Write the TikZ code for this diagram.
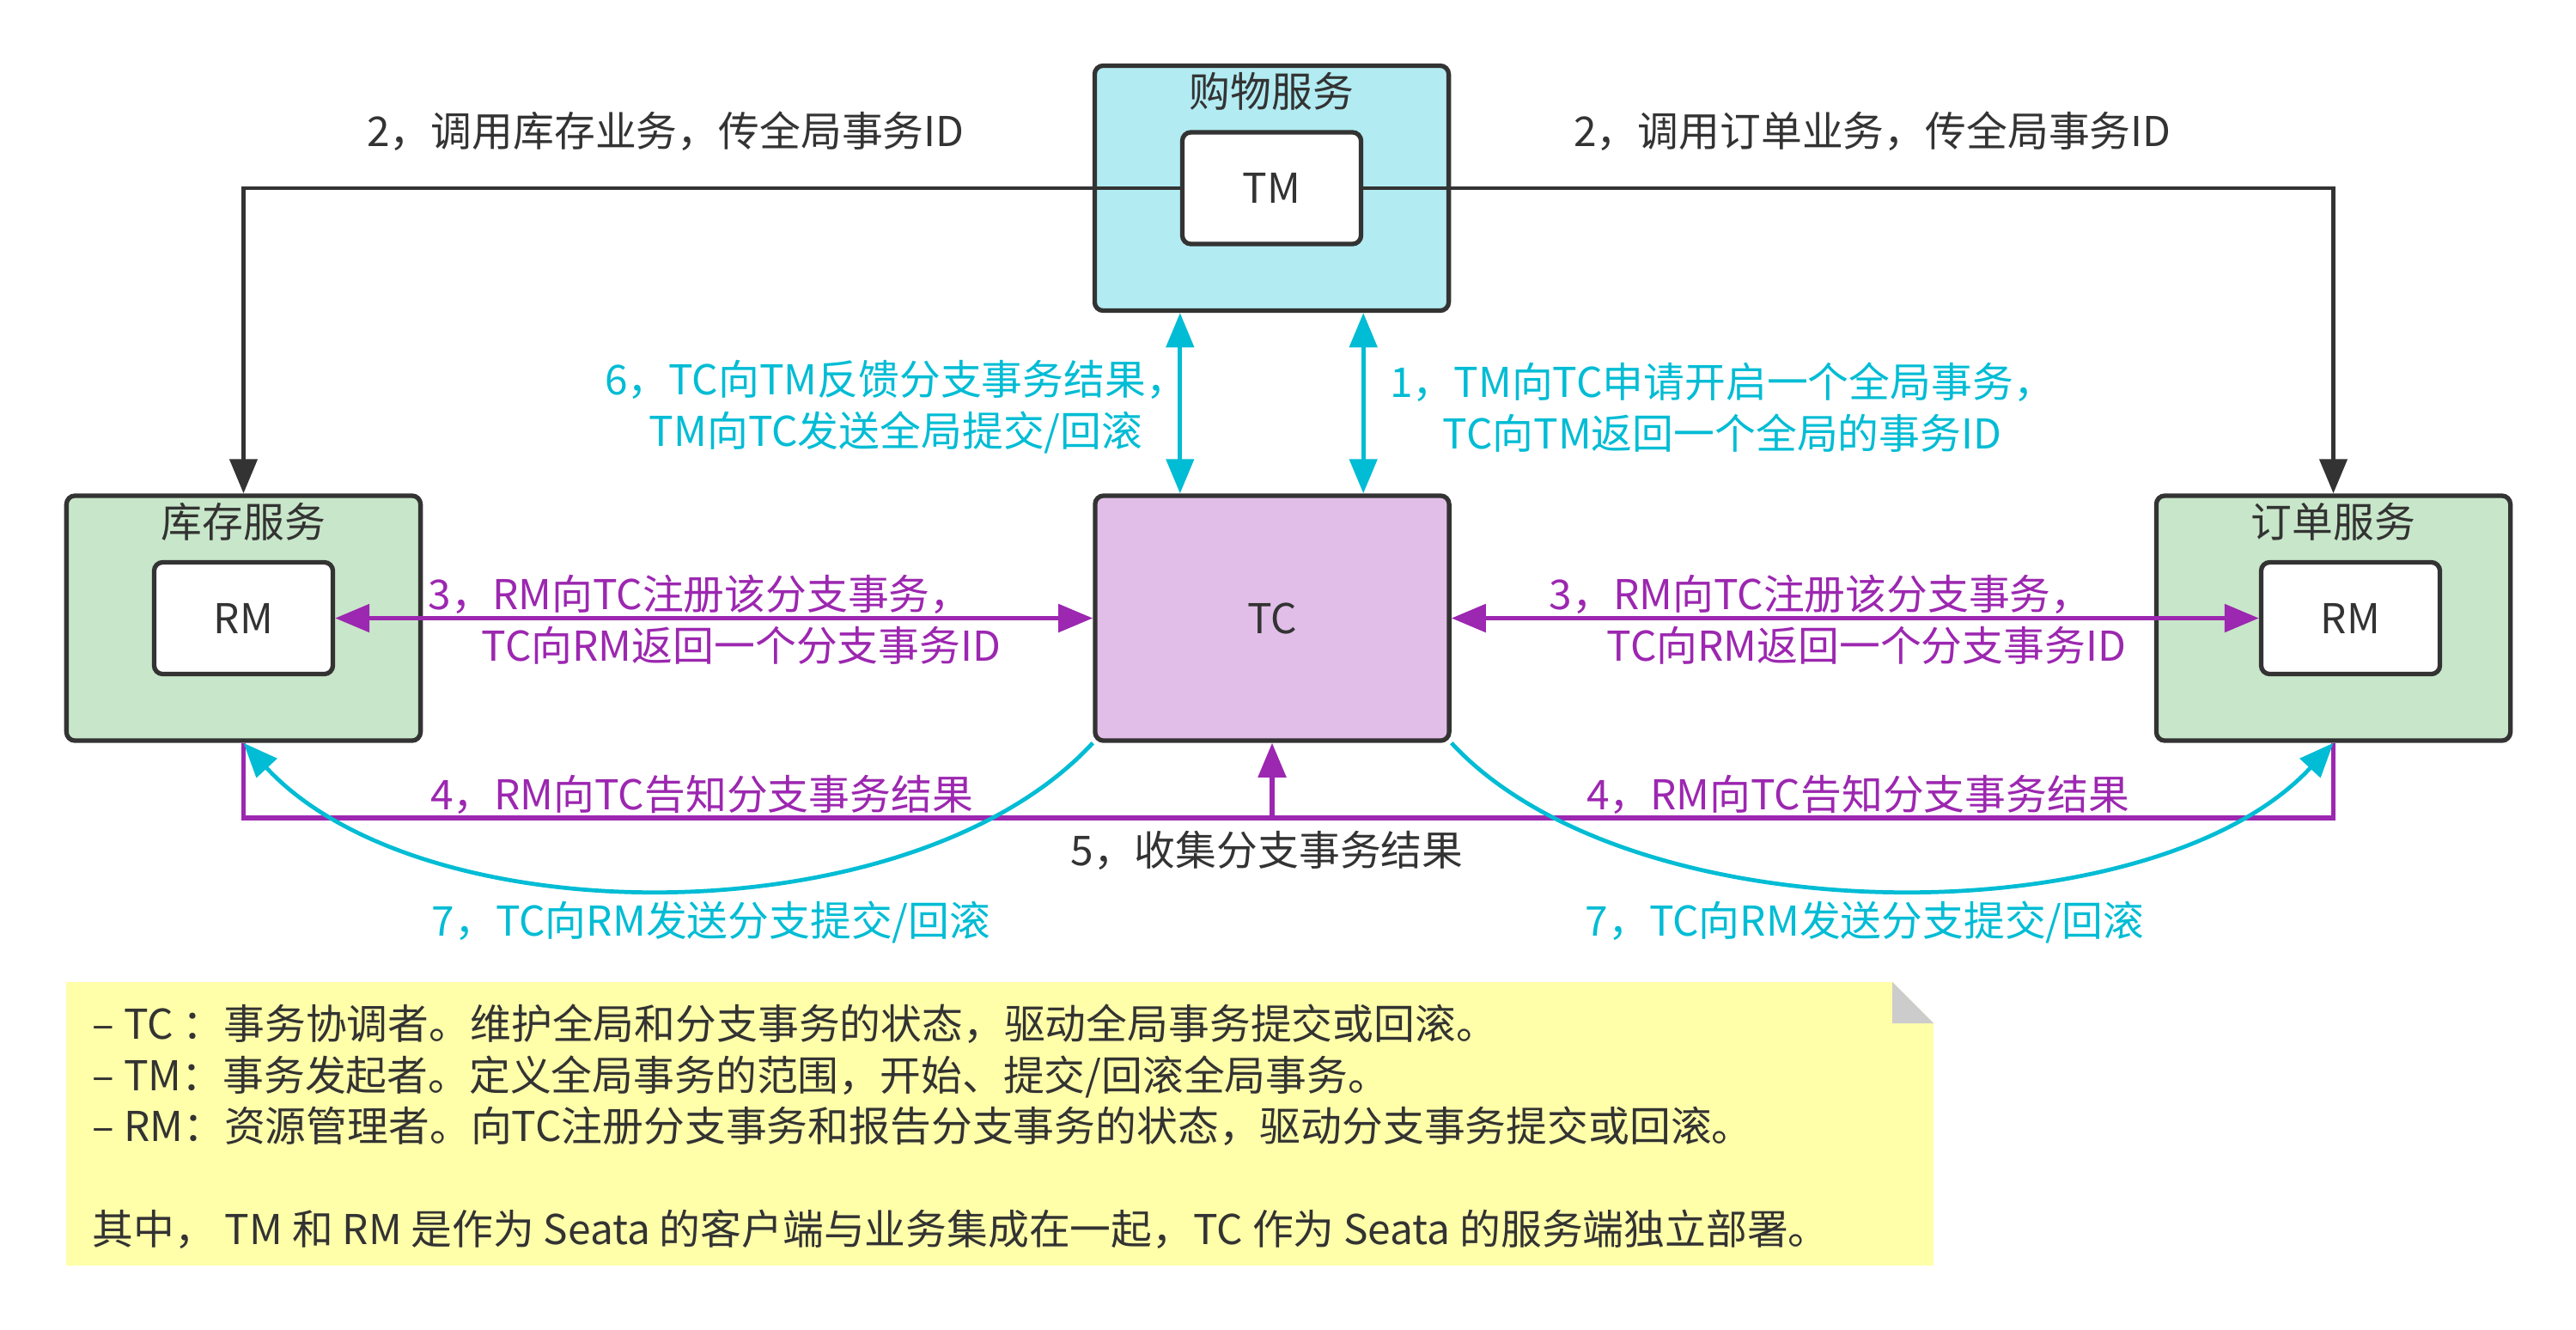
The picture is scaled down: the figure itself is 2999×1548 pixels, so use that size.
\documentclass[tikz,border=0pt]{standalone}
\usepackage{fontspec}
\setmainfont{Noto Sans CJK SC}
\usetikzlibrary{arrows.meta,calc,positioning}
\definecolor{TextGray}{RGB}{51,51,51}
\definecolor{SeataCyan}{RGB}{0,188,212}
\definecolor{SeataPurple}{RGB}{156,39,176}
\definecolor{ShopFill}{RGB}{178,235,242}
\definecolor{SvcFill}{RGB}{200,230,201}
\definecolor{TCFill}{RGB}{225,190,231}
\definecolor{NoteFill}{RGB}{255,255,170}
\definecolor{NoteFold}{RGB}{204,204,204}

\begin{document}
\begin{tikzpicture}[x=0.01cm,y=-0.01cm,>={Triangle[length=0.4cm,width=0.32cm]},
  every node/.style={font=\fontsize{13.6pt}{17pt}\selectfont,text=TextGray},
  svcbox/.style={draw=TextGray,line width=1.5pt,rounded corners=0.1cm,
    minimum width=4.12cm,minimum height=2.85cm},
  rolebox/.style={draw=TextGray,fill=white,line width=1.5pt,rounded corners=0.1cm,
    minimum width=2.08cm,minimum height=1.3cm},
  grayline/.style={draw=TextGray,line width=1.3pt},
  cyanline/.style={draw=SeataCyan,line width=1.35pt},
  purpleline/.style={draw=SeataPurple,line width=1.5pt}]
  \useasboundingbox (0,0) rectangle (2999,1548);
  % services
  \node[svcbox,fill=ShopFill] (shop) at (1480.5,219) {};
  \node[svcbox,fill=SvcFill] (stock) at (283.5,719.5) {};
  \node[svcbox,fill=SvcFill] (order) at (2716.5,719.5) {};
  \node[svcbox,fill=TCFill] (tc) at (1481,719.5) {TC};
  \node at ($(shop.north)+(0,33)$) {购物服务};
  \node at ($(stock.north)+(0,33)$) {库存服务};
  \node at ($(order.north)+(0,33)$) {订单服务};
  \node[rolebox] (tm) at (shop.center) {TM};
  \node[rolebox] (rmL) at (stock.center) {RM};
  \node[rolebox] (rmR) at ($(order.center)+(20,0)$) {RM};
  % 2: TM calls the branches
  \draw[grayline,->] (tm.west) -| (stock.north);
  \draw[grayline,->] (tm.east) -| (order.north);
  \node (lblTwoL) at (775,153) {2，调用库存业务，传全局事务ID};
  \node (lblTwoR) at (2180,153) {2，调用订单业务，传全局事务ID};
  % 1 and 6: TM <-> TC
  \draw[cyanline,<->] (tm.west |- shop.south) -- (tm.west |- tc.north);
  \draw[cyanline,<->] (tm.east |- shop.south) -- (tm.east |- tc.north);
  \node[align=center,text=SeataCyan] (lblSix) at (1043,474)
    {6，TC向TM反馈分支事务结果，\\TM向TC发送全局提交/回滚};
  \node[align=center,text=SeataCyan] (lblOne) at (2005,474)
    {1，TM向TC申请开启一个全局事务，\\TC向TM返回一个全局的事务ID};
  % 3: RM <-> TC
  \draw[purpleline,<->] (rmL.east) -- (tc.west);
  \draw[purpleline,<->] (tc.east) -- (rmR.west);
  \node[align=left,anchor=west,inner sep=0pt,text=SeataPurple] (lblThreeL) at (498,721)
    {3，RM向TC注册该分支事务，\\\hspace*{1.3em}TC向RM返回一个分支事务ID};
  \node[align=left,anchor=west,inner sep=0pt,text=SeataPurple] (lblThreeR) at (1803,721)
    {3，RM向TC注册该分支事务，\\\hspace*{1.4em}TC向RM返回一个分支事务ID};
  % 4 and 5: results collected
  \coordinate (M) at (1481,952);
  \draw[purpleline] (stock.south) |- (M) -| (order.south);
  \draw[purpleline,->] (M) -- (tc.south);
  \node[text=SeataPurple] (lblFourL) at (817,925) {4，RM向TC告知分支事务结果};
  \node[text=SeataPurple] (lblFourR) at (2163,925) {4，RM向TC告知分支事务结果};
  \node (lblFive) at (1475,990) {5，收集分支事务结果};
  % 7: TC -> RM commit/rollback
  \draw[cyanline,->] (tc.south west) .. controls ($(tc.south west)+(-210,227)$)
    and ($(stock.south)+(210,227)$) .. (stock.south);
  \draw[cyanline,->] (tc.south east) .. controls ($(tc.south east)+(210,227)$)
    and ($(order.south)+(-210,227)$) .. (order.south);
  \node[text=SeataCyan] (lblSevenL) at (828,1073) {7，TC向RM发送分支提交/回滚};
  \node[text=SeataCyan] (lblSevenR) at (2171,1073) {7，TC向RM发送分支提交/回滚};
  % note
  \fill[NoteFill] (77,1143) -- (2203,1143) -- (2251,1191) -- (2251,1473) -- (77,1473) -- cycle;
  \fill[NoteFold] (2203,1143) -- (2203,1191) -- (2251,1191) -- cycle;
  \node[align=left,anchor=west,inner sep=0pt] (note) at (107,1311)
    {– TC ：事务协调者。维护全局和分支事务的状态，驱动全局事务提交或回滚。\\
     – TM：事务发起者。定义全局事务的范围，开始、提交/回滚全局事务。\\
     – RM：资源管理者。向TC注册分支事务和报告分支事务的状态，驱动分支事务提交或回滚。\\[17pt]
     其中， TM 和 RM 是作为 Seata 的客户端与业务集成在一起，TC 作为 Seata 的服务端独立部署。};
\end{tikzpicture}
\end{document}
